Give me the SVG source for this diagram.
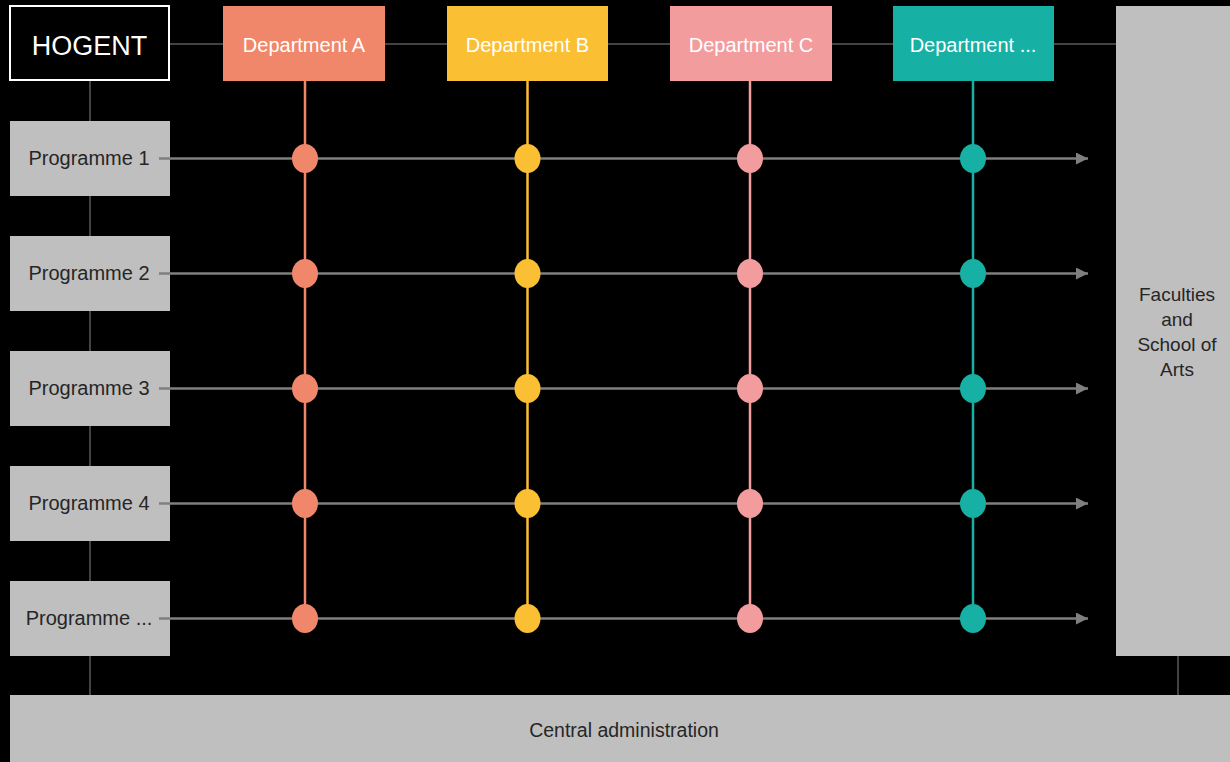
<svg xmlns="http://www.w3.org/2000/svg" width="1230" height="762" viewBox="0 0 1230 762">
<style>
.t{font-family:"Liberation Sans",Arial,sans-serif;text-anchor:middle}
.w{fill:#ffffff}
.d{fill:#262626}
.grey{fill:#bfbfbf}
.thin{stroke:#595959;stroke-width:1.5;fill:none}
.row{stroke:#7f7f7f;stroke-width:2.5;fill:none}
</style>
<defs>
<marker id="arr" markerWidth="12" markerHeight="12" refX="12" refY="6" orient="auto" markerUnits="userSpaceOnUse">
<path d="M0,0 L12,6 L0,12 Z" fill="#7f7f7f"/>
</marker>
</defs>
<rect x="0" y="0" width="1230" height="762" fill="#000000"/>
<g id="hierarchy-lines">
<line class="thin" x1="169" y1="44" x2="1116" y2="44"/>
<line class="thin" x1="90" y1="80" x2="90" y2="695"/>
<line class="thin" x1="1178" y1="656" x2="1178" y2="695"/>
</g>
<g id="hogent">
<rect x="10" y="6" width="159" height="74" fill="#000000" stroke="#ffffff" stroke-width="2"/>
<text class="t w" x="89.5" y="55" font-size="27">HOGENT</text>
</g>
<g id="deptA">
<rect x="223" y="6" width="162" height="75" fill="#f0876a"/>
<text class="t w" x="304" y="52" font-size="20">Department A</text>
</g>
<g id="deptB">
<rect x="447" y="6" width="161" height="75" fill="#fbbf33"/>
<text class="t w" x="527.5" y="52" font-size="20">Department B</text>
</g>
<g id="deptC">
<rect x="670" y="6" width="162" height="75" fill="#f29c9e"/>
<text class="t w" x="751" y="52" font-size="20">Department C</text>
</g>
<g id="deptD">
<rect x="893" y="6" width="161" height="75" fill="#17b0a4"/>
<text class="t w" x="973" y="52" font-size="20">Department ...</text>
</g>
<g id="prog1">
<rect class="grey" x="10" y="121" width="160" height="75"/>
<text class="t d" x="89" y="165" font-size="20">Programme 1</text>
</g>
<g id="prog2">
<rect class="grey" x="10" y="236" width="160" height="75"/>
<text class="t d" x="89" y="280" font-size="20">Programme 2</text>
</g>
<g id="prog3">
<rect class="grey" x="10" y="351" width="160" height="75"/>
<text class="t d" x="89" y="395" font-size="20">Programme 3</text>
</g>
<g id="prog4">
<rect class="grey" x="10" y="466" width="160" height="75"/>
<text class="t d" x="89" y="510" font-size="20">Programme 4</text>
</g>
<g id="prog5">
<rect class="grey" x="10" y="581" width="160" height="75"/>
<text class="t d" x="89" y="625" font-size="20">Programme ...</text>
</g>
<g id="faculties">
<rect class="grey" x="1116" y="6" width="114" height="650"/>
<text class="t d" font-size="19"><tspan x="1177" y="301">Faculties</tspan><tspan x="1177" y="326">and</tspan><tspan x="1177" y="351">School of</tspan><tspan x="1177" y="376">Arts</tspan></text>
</g>
<g id="central">
<rect class="grey" x="10" y="695" width="1220" height="67"/>
<text class="t d" x="624" y="737" font-size="19.5">Central administration</text>
</g>
<g id="connectors">
<line class="row" x1="159" y1="158.5" x2="1088" y2="158.5" marker-end="url(#arr)"/>
<line class="row" x1="159" y1="273.5" x2="1088" y2="273.5" marker-end="url(#arr)"/>
<line class="row" x1="159" y1="388.5" x2="1088" y2="388.5" marker-end="url(#arr)"/>
<line class="row" x1="159" y1="503.5" x2="1088" y2="503.5" marker-end="url(#arr)"/>
<line class="row" x1="159" y1="618.5" x2="1088" y2="618.5" marker-end="url(#arr)"/>
<line x1="305" y1="81" x2="305" y2="618" stroke="#f0876a" stroke-width="2.5"/>
<line x1="527.5" y1="81" x2="527.5" y2="618" stroke="#fbbf33" stroke-width="2.5"/>
<line x1="750" y1="81" x2="750" y2="618" stroke="#f29c9e" stroke-width="2.5"/>
<line x1="973" y1="81" x2="973" y2="618" stroke="#17b0a4" stroke-width="2.5"/>
</g>
<g id="dots">
<g fill="#f0876a">
<ellipse cx="305" cy="158.5" rx="13" ry="14.5"/>
<ellipse cx="305" cy="273.5" rx="13" ry="14.5"/>
<ellipse cx="305" cy="388.5" rx="13" ry="14.5"/>
<ellipse cx="305" cy="503.5" rx="13" ry="14.5"/>
<ellipse cx="305" cy="618.5" rx="13" ry="14.5"/>
</g>
<g fill="#fbbf33">
<ellipse cx="527.5" cy="158.5" rx="13" ry="14.5"/>
<ellipse cx="527.5" cy="273.5" rx="13" ry="14.5"/>
<ellipse cx="527.5" cy="388.5" rx="13" ry="14.5"/>
<ellipse cx="527.5" cy="503.5" rx="13" ry="14.5"/>
<ellipse cx="527.5" cy="618.5" rx="13" ry="14.5"/>
</g>
<g fill="#f29c9e">
<ellipse cx="750" cy="158.5" rx="13" ry="14.5"/>
<ellipse cx="750" cy="273.5" rx="13" ry="14.5"/>
<ellipse cx="750" cy="388.5" rx="13" ry="14.5"/>
<ellipse cx="750" cy="503.5" rx="13" ry="14.5"/>
<ellipse cx="750" cy="618.5" rx="13" ry="14.5"/>
</g>
<g fill="#17b0a4">
<ellipse cx="973" cy="158.5" rx="13" ry="14.5"/>
<ellipse cx="973" cy="273.5" rx="13" ry="14.5"/>
<ellipse cx="973" cy="388.5" rx="13" ry="14.5"/>
<ellipse cx="973" cy="503.5" rx="13" ry="14.5"/>
<ellipse cx="973" cy="618.5" rx="13" ry="14.5"/>
</g>
</g>
</svg>
